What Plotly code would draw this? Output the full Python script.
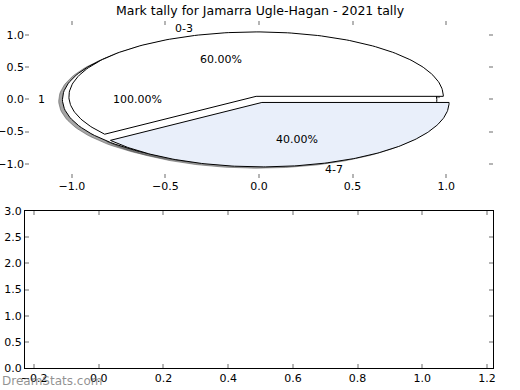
import numpy as np
import plotly.graph_objects as go

# ---------------- data ----------------
title_text = "Mark tally for Jamarra Ugle-Hagan - 2021 tally"

pie_a_labels = ["1"]
pie_a_values = [1]
pie_a_colors = ["#ffffff"]

pie_b_labels = ["0-3", "4-7"]
pie_b_values = [3, 2]
pie_b_colors = ["#ffffff", "#e9effa"]

explode_amount = 0.05

top_x_ticks = [-1.0, -0.5, 0.0, 0.5, 1.0]
top_y_ticks = [-1.0, -0.5, 0.0, 0.5, 1.0]
bottom_x_ticks = [-0.2, 0.0, 0.2, 0.4, 0.6, 0.8, 1.0, 1.2]
bottom_y_ticks = [0.0, 0.5, 1.0, 1.5, 2.0, 2.5, 3.0]

watermark = "DreamStats.com"

# ---------------- helpers ----------------
FONT = "DejaVu Sans"
W, H = 520, 390


def fmt(v):
    s = f"{v:.1f}"
    return s.replace("-", "\u2212")


def wedge_xy(t1, t2, cx, cy, full):
    th = np.radians(np.linspace(t1, t2, 181))
    xs = cx + np.cos(th)
    ys = cy + np.sin(th)
    if full:
        return list(xs), list(ys)
    return [cx] + list(xs) + [cx], [cy] + list(ys) + [cy]


def build_pie(values, labels, colors):
    total = float(sum(values))
    out = []
    start = 0.0
    for v, lab, col in zip(values, labels, colors):
        frac = v / total
        t1 = start
        t2 = start + 360.0 * frac
        mid = np.radians((t1 + t2) / 2.0)
        cx = explode_amount * np.cos(mid)
        cy = explode_amount * np.sin(mid)
        full = abs(frac - 1.0) < 1e-12
        xs, ys = wedge_xy(t1, t2, cx, cy, full)
        out.append(dict(xs=xs, ys=ys, color=col, label=lab, pct=100 * frac,
                        mid=mid, cx=cx, cy=cy))
        start = t2
    return out


pie_a = build_pie(pie_a_values, pie_a_labels, pie_a_colors)
pie_b = build_pie(pie_b_values, pie_b_labels, pie_b_colors)

fig = go.Figure()

# shadows (below all wedges)
for w in pie_a + pie_b:
    fig.add_trace(go.Scatter(
        x=[x - 0.02 for x in w["xs"]], y=[y - 0.02 for y in w["ys"]],
        mode="lines", fill="toself",
        fillcolor="rgba(77,77,77,0.5)",
        line=dict(color="rgba(77,77,77,0.5)", width=1),
        hoverinfo="skip", xaxis="x", yaxis="y"))

# wedges
for w in pie_a + pie_b:
    fig.add_trace(go.Scatter(
        x=w["xs"], y=w["ys"], mode="lines", fill="toself",
        fillcolor=w["color"], line=dict(color="black", width=1),
        hoverinfo="skip", xaxis="x", yaxis="y"))

annotations = []
for w in pie_a + pie_b:
    lx = w["cx"] + 1.1 * np.cos(w["mid"])
    ly = w["cy"] + 1.1 * np.sin(w["mid"])
    annotations.append(dict(
        x=lx, y=ly, xref="x", yref="y", text=w["label"], showarrow=False,
        xanchor="left" if lx > 0 else "right", yanchor="middle",
        xshift=-3 if lx > 0 else 3,
        font=dict(family=FONT, size=11, color="black")))
    px = w["cx"] + 0.6 * np.cos(w["mid"])
    py = w["cy"] + 0.6 * np.sin(w["mid"])
    annotations.append(dict(
        x=px, y=py, xref="x", yref="y", text=f"{w['pct']:.2f}%",
        showarrow=False, xanchor="center", yanchor="middle",
        font=dict(family=FONT, size=11, color="black")))

annotations.append(dict(
    x=0.5, y=1 - 10 / H, xref="paper", yref="paper", text=title_text,
    showarrow=False, xanchor="center", yanchor="middle",
    font=dict(family=FONT, size=12.5, color="black")))

annotations.append(dict(
    x=0, y=1 - 381 / H, xref="paper", yref="paper", text=watermark,
    showarrow=False, xanchor="left", yanchor="middle",
    font=dict(family=FONT, size=12, color="rgba(110,110,110,0.75)")))

# invisible trace for bottom axes
fig.add_trace(go.Scatter(x=[None], y=[None], xaxis="x2", yaxis="y2",
                         mode="markers", hoverinfo="skip"))

tick_common = dict(ticks="inside", ticklen=4, tickwidth=1.5,
                   tickcolor="#b5b5b5", showgrid=False, zeroline=False,
                   automargin=False,
                   tickfont=dict(family=FONT, size=11, color="black"))

fig.update_layout(
    width=W, height=H,
    margin=dict(l=0, r=0, t=0, b=0, pad=0, autoexpand=False),
    autosize=False,
    paper_bgcolor="white", plot_bgcolor="white", showlegend=False,
    annotations=annotations,
    xaxis=dict(domain=[25 / W, 493 / W], range=[-1.25, 1.25],
               tickvals=top_x_ticks, ticktext=[fmt(v) for v in top_x_ticks],
               showline=False, mirror="ticks", anchor="y", **tick_common),
    yaxis=dict(domain=[1 - 178 / H, 1 - 20.8 / H], range=[-1.22, 1.22],
               tickvals=top_y_ticks, ticktext=[fmt(v) for v in top_y_ticks],
               showline=False, mirror="ticks", anchor="x", **tick_common),
    xaxis2=dict(domain=[25 / W, 493 / W], range=[-0.228, 1.2185],
                tickvals=bottom_x_ticks,
                ticktext=[fmt(v) for v in bottom_x_ticks],
                showline=True, linecolor="black", linewidth=1,
                mirror="ticks", anchor="y2", **tick_common),
    yaxis2=dict(domain=[1 - 368 / H, 1 - 211 / H], range=[0, 3],
                tickvals=bottom_y_ticks,
                ticktext=[fmt(v) for v in bottom_y_ticks],
                showline=True, linecolor="black", linewidth=1,
                mirror="ticks", anchor="x2", **tick_common),
)

fig.write_html(
    "out.html",
    config={"displayModeBar": False, "responsive": False},
    post_script="document.body.style.margin='0';document.body.style.padding='0';document.body.style.overflow='hidden';",
)
